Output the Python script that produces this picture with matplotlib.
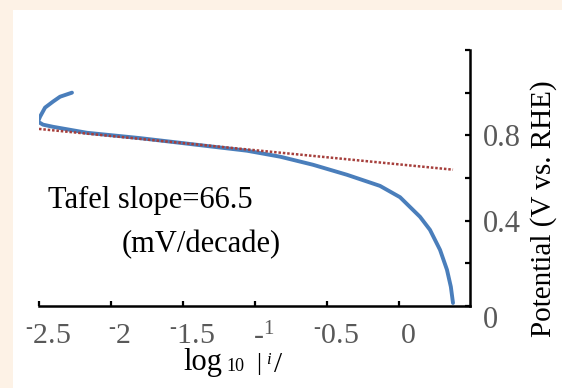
import matplotlib
matplotlib.use("Agg")
import matplotlib.pyplot as plt
from matplotlib.patches import Rectangle
from matplotlib.transforms import ScaledTranslation

plt.rcParams['font.family'] = ['Liberation Serif', 'DejaVu Serif']
plt.rcParams['mathtext.fontset'] = 'custom'
plt.rcParams['mathtext.rm'] = 'Liberation Serif'
plt.rcParams['mathtext.it'] = 'Liberation Serif:italic'

# ---- data ----
curve_log_i = [-2.271, -2.354, -2.403, -2.458, -2.493, -2.507, -2.472, -2.403, -2.167,
               -1.80, -1.521, -1.056, -0.826, -0.597, -0.361, -0.132, 0.007,
               0.146, 0.215, 0.285, 0.333, 0.360, 0.375]
curve_E = [1.000, 0.981, 0.958, 0.930, 0.887, 0.864, 0.850, 0.840, 0.812,
           0.787, 0.765, 0.728, 0.700, 0.662, 0.615, 0.563, 0.510,
           0.418, 0.357, 0.263, 0.170, 0.090, 0.014]
tafel_log_i = [-2.5, 0.375]
tafel_E = [0.830, 0.639]

xticks = [-2.5, -2.0, -1.5, -1.0, -0.5, 0.0]
xticklabels = ["$^{\u2010}$2.5", "$^{\u2010}$2", "$^{\u2010}$1.5",
               "\u2010$^{1}$", "$^{\u2010}$0.5", "0"]
yticks = [0.0, 0.2, 0.4, 0.6, 0.8, 1.0, 1.2]
yticklabels = ["", "", "0.4", "", "0.8", "", ""]

W, H = 562, 388
fig = plt.figure(figsize=(W / 100, H / 100), dpi=100)
fig.patch.set_facecolor('#fdf2e6')
fig.patches.append(Rectangle((13 / W, 0), 1, (H - 10) / H, transform=fig.transFigure,
                             facecolor='white', edgecolor='none', zorder=-5))

def fx(x):
    return x / W

def fy(y):
    return (H - y) / H

ax = fig.add_axes([fx(39), fy(306), (470 - 39) / W, (306 - 50) / H])
ax.set_facecolor('none')
ax.set_zorder(2)

ax.plot(curve_log_i, curve_E, color='#4a7ebb', lw=2.8, solid_capstyle='round', zorder=2)
ax.plot(tafel_log_i, tafel_E, color='#a63f3c', lw=1.8, dashes=(1, 0.75),
        dash_capstyle='butt', zorder=3)

ax.set_xlim(-2.5, 0.493)
ax.set_ylim(0, 1.2)

for s in ['left', 'top']:
    ax.spines[s].set_visible(False)
for s in ['bottom', 'right']:
    ax.spines[s].set_linewidth(1.8)
    ax.spines[s].set_color('black')

ax.yaxis.tick_right()

ax.set_xticks(xticks)
ax.set_xticklabels(xticklabels)
ax.set_yticks(yticks)
ax.set_yticklabels(yticklabels)

ax.tick_params(axis='x', direction='in', length=3.5, width=1.6, pad=12,
               labelsize=21.5, labelcolor='#595959', color='black')
ax.tick_params(axis='y', direction='in', length=3.5, width=1.6, pad=9,
               labelsize=22, labelcolor='#595959', color='black',
               right=True, left=False, labelright=True, labelleft=False)

off = ScaledTranslation(9 / 100, 0, fig.dpi_scale_trans)
for lab in ax.get_xticklabels():
    lab.set_transform(lab.get_transform() + off)

# zero label on the right axis (sits lower in the reference)
ax.annotate("0", xy=(1, 0), xycoords=ax.get_yaxis_transform(), xytext=(13, -15),
            textcoords='offset pixels', ha='left', va='center', fontsize=22, color='#595959')

# y axis title
fig.text(fx(544), fy(209), "Potential (V vs. RHE)", fontsize=21, rotation=90,
         ha='center', va='center', color='black')

# annotation
fig.text(fx(48), fy(208), "Tafel slope=66.5", fontsize=22, ha='left', va='baseline')
fig.text(fx(122), fy(252), "(mV/decade)", fontsize=22, ha='left', va='baseline')

# x label in pieces
fig.text(fx(183), fy(370), "log", fontsize=22, ha='left', va='baseline')
fig.text(fx(226), fy(371), "10", fontsize=13, ha='left', va='baseline')
fig.text(fx(256), fy(370), "|", fontsize=18, ha='left', va='baseline')
fig.text(fx(266), fy(364), "i", fontsize=12, style='italic', ha='left', va='baseline')
fig.text(fx(274), fy(372), "/", fontsize=21, ha='left', va='baseline')

fig.savefig("out.png", dpi=100, facecolor=fig.get_facecolor())
